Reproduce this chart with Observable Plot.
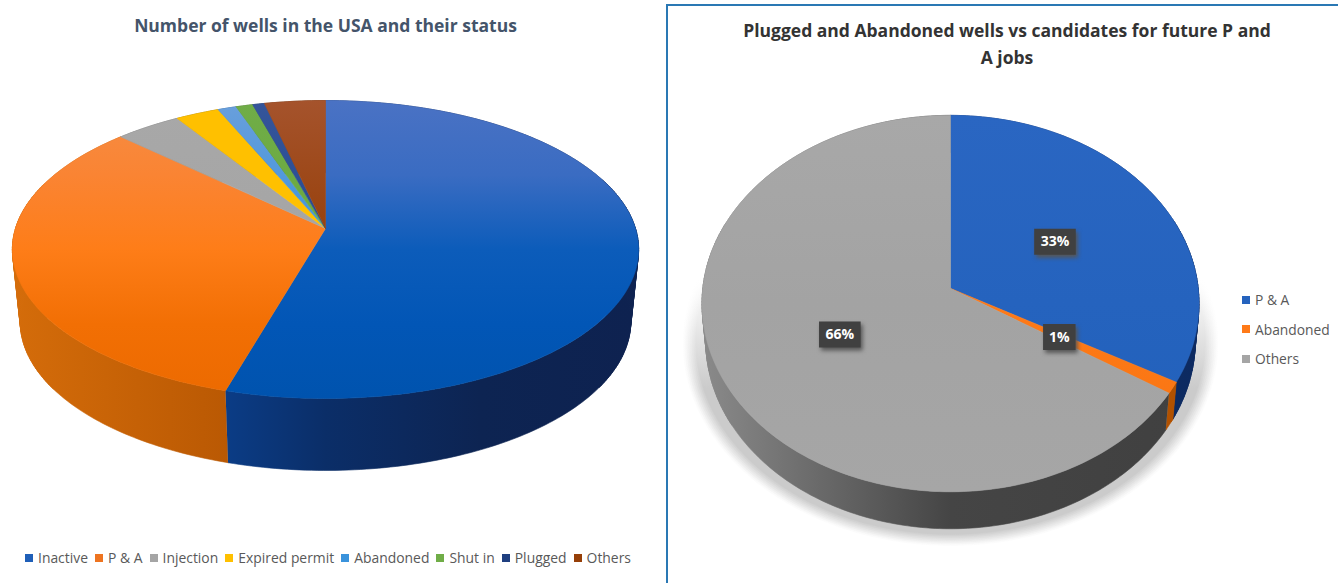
<!DOCTYPE html>
<html>
<head>
<meta charset="utf-8">
<script src="https://cdn.jsdelivr.net/npm/d3@7"></script>
<script src="https://cdn.jsdelivr.net/npm/@observablehq/plot@0.6"></script>
<style>
  html, body { margin: 0; padding: 0; background: #fff; }
  #page { position: relative; width: 1338px; height: 583px; overflow: hidden; font-family: "Open Sans", sans-serif; }
  .panel { position: absolute; top: 0; height: 583px; }
  .panel svg { position: absolute; left: 0; top: 0; }
  #frame { position: absolute; left: 666px; top: 4px; width: 680px; height: 600px; border: 2px solid #2a78b4; }
  .title { position: absolute; font-weight: 700; text-align: center; }
  .legend { position: absolute; display: flex; font-size: 14px; color: #595959; white-space: nowrap; }
  .legend span.item { display: flex; align-items: center; }
  .legend i { display: inline-block; width: 8px; height: 8px; margin-right: 5px; }
  .box-shadow { filter: blur(2px); }
</style>
</head>
<body>
<div id="page">
  <div id="frame"></div>
  <div class="panel" id="usa" style="left:0;width:660px"></div>
  <div class="panel" id="pa" style="left:660px;width:678px"></div>
</div>
<script>
// Number of wells in the USA, share of each status (percent)
const usaCategories = ["Inactive", "P & A", "Injection", "Expired permit", "Abandoned", "Shut in", "Plugged", "Others"];
const usaValues = [54.5, 32.6, 3.9, 2.6, 1.1, 1.0, 0.7, 3.6];
// Top-face colours, far edge to near edge
const usaTop = [
  ["#4a72c4", "#3a6cc2", "#0c5cba", "#0256b6", "#0053ae"],
  ["#f58d45", "#fa8433", "#fe7d18", "#f26f04", "#ec6a00"],
  ["#a8a8a8", "#a5a5a5", "#a0a0a0"],
  ["#ffc000", "#ffc000", "#ffc000"],
  ["#6a9fdc", "#3a93dc", "#2a8cdc"],
  ["#70ad47", "#6aa840", "#62a038"],
  ["#35559a", "#254a92", "#1c3f80"],
  ["#a5532c", "#963f08", "#8f3b00"]
];
// Side-wall colours, left to right
const usaSide = [
  ["#0e50b0", "#0b4496", "#0b2e68", "#0d2452", "#0e2250"],
  ["#d46c0a", "#ae5000", "#8e3e00"],
  ["#777", "#555", "#333"],
  ["#b08500", "#806000", "#604800"],
  ["#2d6da5", "#224f80", "#183a60"],
  ["#4f7a32", "#3c5c26", "#2c441c"],
  ["#1f3864", "#182c50", "#10203a"],
  ["#7a3000", "#5a2400", "#401a00"]
];
const usaLegend = ["#1f5fb8", "#ee7420", "#a5a5a5", "#ffc000", "#3a93dc", "#70ad47", "#1f3f80", "#963f08"];

// Plugged and abandoned wells vs candidates (percent)
const paCategories = ["P & A", "Abandoned", "Others"];
const paValues = [33, 1, 66];
const paTop = [
  ["#2a66c2", "#2563be", "#2160ba"],
  ["#ff7f20", "#ff7a18", "#f5730f"],
  ["#a8a8a8", "#a3a3a3", "#a6a6a6"]
];
const paSide = [
  ["#123a80", "#0e2f6b", "#0d2a60"],
  ["#d06400", "#c05a00", "#b05000"],
  ["#8a8a8a", "#454545", "#404040"]
];
const paLegend = ["#2563be", "#ff7a18", "#a5a5a5"];

const sliceStep = 1;

// Tilted disc with perspective: far rim shrinks, near rim grows
function project(r, deg, k) {
  const a = deg * Math.PI / 180;
  const X = r * Math.sin(a), Z = r * Math.cos(a), w = 1 + k * Z;
  return [X / w, Z / w];
}

function arcPoints(r, a0, a1, k) {
  const n = Math.max(2, Math.ceil((a1 - a0) / sliceStep));
  return d3.range(n + 1).map(i => project(r, a0 + (a1 - a0) * i / n, k));
}

function gradient(id, stops, x1, y1, x2, y2) {
  const offsets = stops.map((_, i) => `<stop offset="${i / (stops.length - 1)}" stop-color="${stops[i]}"/>`).join("");
  return `<linearGradient id="${id}" gradientUnits="userSpaceOnUse" x1="${x1}" y1="${y1}" x2="${x2}" y2="${y2}">${offsets}</linearGradient>`;
}

function drawPie(host, o) {
  const angles = d3.pie().sort(null)(o.values).map(s => [s.startAngle * 180 / Math.PI, s.endAngle * 180 / Math.PI]);
  const drop = o.thick / o.Ry;
  const lower = ([x, y]) => [x * o.taper, y - drop];

  const topFaces = [], sideFaces = [];
  angles.forEach(([a0, a1], i) => {
    const rim = arcPoints(1, a0, a1, o.k);
    [[0, 0], ...rim, [0, 0]].forEach(([x, y]) => topFaces.push({slice: i, z: i, x, y}));
    // The wall: one band between the rims, plus small quads at the silhouette
    // where the narrower lower rim crosses the upper one
    [...rim, ...rim.slice().reverse().map(lower)].forEach(([x, y]) => sideFaces.push({slice: i, z: `${i}`, x, y}));
    rim.slice(1).forEach((p, j) => {
      const q = rim[j];
      if (Math.abs(p[0]) > 0.9) {
        [q, p, lower(p), lower(q), q].forEach(([x, y]) => sideFaces.push({slice: i, z: `${i}-${j}`, x, y}));
      }
    });
  });
  const shadowRows = o.shadowStops ? o.shadowStops.flatMap((_, s) =>
    arcPoints(o.shadowR[s], 0, 360, o.k).map(([x, y]) => ({z: s, x, y: y - drop}))) : [];

  const labels = o.showLabels ? angles.map(([a0, a1], i) => {
    const [x, y] = project(0.5, (a0 + a1) / 2, o.k);
    return {x, y, text: `${o.values[i]}%`};
  }) : [];

  const xScale = {domain: [-1, 1], range: [o.cx - o.Rx, o.cx + o.Rx]};
  const yScale = {domain: [-1, 1], range: [o.cy + o.Ry, o.cy - o.Ry]};
  const px = d3.scaleLinear(xScale.domain, xScale.range), py = d3.scaleLinear(yScale.domain, yScale.range);
  const yFar = py(1 / (1 + o.k)), yNear = py(-1 / (1 - o.k));

  const defs = () => {
    const g = document.createElementNS("http://www.w3.org/2000/svg", "defs");
    g.innerHTML = o.top.map((s, i) => gradient(`${o.id}-top-${i}`, s, 0, yFar, 0, yNear)).join("")
      + o.side.map((s, i) => gradient(`${o.id}-side-${i}`, s, px(-1), 0, px(1), 0)).join("")
      + (o.shadowStops || []).map((s, i) => gradient(`${o.id}-shadow-${i}`, ["#ffffff", s], 0, o.cy - 10, 0, o.cy + 100)).join("");
    return g;
  };

  const faceMarks = (rows, kind) => o.values.map((_, i) => Plot.line(rows.filter(d => d.slice === i), {
    x: "x", y: "y", z: "z",
    fill: `url(#${o.id}-${kind}-${i})`,
    stroke: `url(#${o.id}-${kind}-${i})`,
    strokeWidth: 0.6,
    curve: "linear"
  }));

  // Soft halo under the disc: nested outlines, palest outermost
  const shadowMarks = (o.shadowStops || []).map((_, s) => Plot.line(shadowRows.filter(d => d.z === s), {
    x: "x", y: "y",
    fill: `url(#${o.id}-shadow-${s})`,
    stroke: `url(#${o.id}-shadow-${s})`,
    strokeWidth: 0.5,
    curve: "linear"
  }));

  // Rectangular plate behind a percentage label, sized by its text length
  const plate = chars => ({draw(ctx, size) {
    const h = Math.sqrt(size / Math.PI), w = chars > 2 ? 1.6 * h : 1.25 * h;
    ctx.rect(-w, -h, 2 * w, 2 * h);
  }});
  const labelMarks = labels.flatMap(d => {
    const symbol = plate(d.text.length);
    return [
      Plot.dot([d], {x: "x", y: "y", r: 13, symbol, fill: "#555", stroke: "none", dx: 2, dy: 3, className: "box-shadow"}),
      Plot.dot([d], {x: "x", y: "y", r: 13, symbol, fill: "#404040", stroke: "none"}),
      Plot.text([d], {x: "x", y: "y", text: "text", fill: "#fff", fontSize: 14, fontWeight: 700, fontFamily: "Open Sans"})
    ];
  });

  const chart = Plot.plot({
    width: o.width, height: 583,
    margin: 0,
    x: {...xScale, axis: null},
    y: {...yScale, axis: null},
    style: {background: "transparent", overflow: "visible"},
    marks: [
      defs,
      ...shadowMarks,
      ...faceMarks(sideFaces, "side"),
      ...faceMarks(topFaces, "top"),
      ...labelMarks
    ]
  });
  host.append(chart);
}

function addTitle(host, text, style) {
  const t = document.createElement("div");
  t.className = "title";
  t.textContent = text;
  Object.assign(t.style, style);
  host.append(t);
}

function addLegend(host, names, colors, style, itemStyle) {
  const l = document.createElement("div");
  l.className = "legend";
  Object.assign(l.style, style);
  names.forEach((name, i) => {
    const item = document.createElement("span");
    item.className = "item";
    Object.assign(item.style, itemStyle);
    const key = document.createElement("i");
    key.style.background = colors[i];
    item.append(key, name);
    l.append(item);
  });
  host.append(l);
}

const usa = document.getElementById("usa");
drawPie(usa, {
  id: "usa", width: 660, cx: 325, cy: 228, Rx: 310, Ry: 146, k: 0.141, thick: 72, taper: 0.975,
  values: usaValues, top: usaTop, side: usaSide, showLabels: false
});
addTitle(usa, "Number of wells in the USA and their status", {
  left: "0", width: "651px", top: "13px", fontSize: "17.5px", color: "#44546a"
});
addLegend(usa, usaCategories, usaLegend, {
  left: "25px", top: "548px", width: "606px", justifyContent: "space-between", fontSize: "13.9px"
}, {});

const pa = document.getElementById("pa");
drawPie(pa, {
  id: "pa", width: 678, cx: 290, cy: 288, Rx: 247.7, Ry: 187, k: 0.08, thick: 37, taper: 0.985,
  values: paValues, top: paTop, side: paSide, showLabels: true,
  shadowR: [1.075, 1.068, 1.061, 1.054, 1.047, 1.04, 1.033, 1.026],
  shadowStops: ["#fbfbfb", "#f5f5f5", "#eeeeee", "#e7e7e7", "#e0e0e0", "#d9d9d9", "#d2d2d2", "#cbcbcb"]
});
addTitle(pa, "Plugged and Abandoned wells vs candidates for future P and A jobs", {
  left: "77px", width: "540px", top: "17px", fontSize: "17.5px", lineHeight: "27px", color: "#333"
});
addLegend(pa, paCategories, paLegend, {
  left: "582px", top: "285px", flexDirection: "column", fontSize: "13.8px"
}, {height: "29.5px"});
</script>
</body>
</html>
